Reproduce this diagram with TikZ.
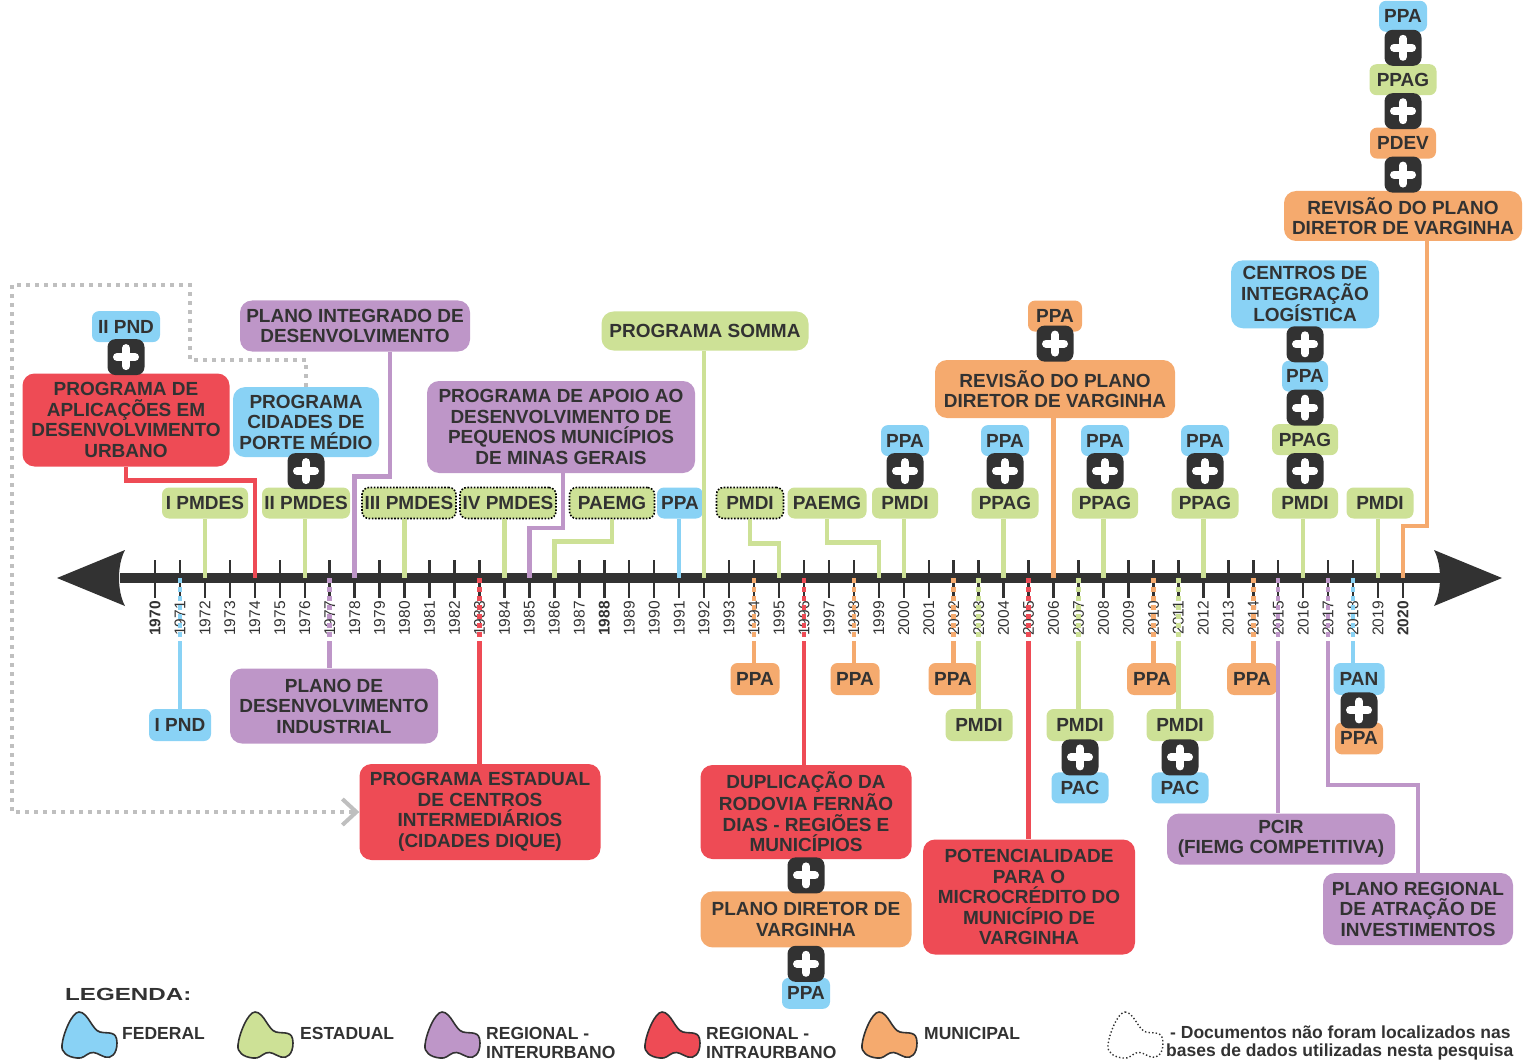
\documentclass[tikz,border=0pt]{standalone}
\usepackage{fontspec}
\setmainfont{Liberation Sans}
\usepackage{graphicx}
\usetikzlibrary{positioning,arrows.meta}

\definecolor{fedblue}{RGB}{137,210,245}
\definecolor{estgreen}{RGB}{205,225,150}
\definecolor{interpurple}{RGB}{190,150,200}
\definecolor{intrared}{RGB}{238,75,85}
\definecolor{munorange}{RGB}{245,170,110}
\definecolor{txt}{RGB}{50,50,50}

\newcommand\tagfont{\fontsize{19}{20.5}\selectfont\bfseries}
\newcommand\yearfont{\fontsize{15.5}{16}\selectfont}
\newcommand\legfont{\fontsize{17.5}{18.5}\selectfont\bfseries}

\tikzset{
  legblob/.pic={
    \path[pic actions] (17,0) .. controls (26,0) and (30,18) .. (38,20)
      .. controls (46,22) and (55,18) .. (55,31)
      .. controls (55,42) and (49,47) .. (43,45)
      .. controls (37,43) and (33,39) .. (28,41)
      .. controls (23,43) and (21,47) .. (15,46)
      .. controls (5,45) and (-1,40) .. (0,33)
      .. controls (1,22) and (10,0) .. (17,0) -- cycle;
  }
}

\begin{document}
\begin{tikzpicture}[
    x=1pt, y=-1pt,
    tag/.style={rounded corners=7pt, minimum height=31pt, inner sep=0pt, font=\tagfont, text=txt},
    box/.style={rounded corners=12pt, inner sep=0pt, align=center, font=\tagfont, text=txt},
    fed/.style={fill=fedblue},
    est/.style={fill=estgreen},
    inter/.style={fill=interpurple},
    intra/.style={fill=intrared},
    mun/.style={fill=munorange},
    missing/.style={draw=black, line width=1.6pt, dash pattern=on 1.6pt off 1.6pt},
    plusbox/.style={fill=txt, rounded corners=8pt, minimum width=37pt, minimum height=36pt, inner sep=0pt,
      path picture={\draw[white, line width=8pt, line cap=round]
        ([xshift=-9pt]path picture bounding box.center) -- ([xshift=9pt]path picture bounding box.center)
        ([yshift=-9pt]path picture bounding box.center) -- ([yshift=9pt]path picture bounding box.center);}},
    fedln/.style={draw=fedblue, line width=4.5pt},
    estln/.style={draw=estgreen, line width=4.5pt},
    interln/.style={draw=interpurple, line width=4.5pt},
    intraln/.style={draw=intrared, line width=4.5pt},
    munln/.style={draw=munorange, line width=4.5pt},
    gapln/.style={dash pattern=on 5pt off 4pt},
    yearlbl/.style={rotate=90, anchor=east, inner sep=0pt, font=\yearfont, text=txt},
    legtxt/.style={anchor=west, inner sep=0pt, align=left, font=\legfont, text=txt},
    refpath/.style={draw=black!25, line width=4pt, dash pattern=on 4pt off 5pt}
]
    \useasboundingbox (0,0) rectangle (1525,1064);

    % Axis
    \coordinate (axl) at (57,578);
    \coordinate (axr) at (1502,578);
    \draw[txt, line width=10pt] (120,578) -- (1440,578);
    \fill[txt] (axl) -- (125,550) .. controls (117,565) and (117,591) .. (125,606) -- cycle;
    \fill[txt] (axr) -- (1434,550) .. controls (1442,565) and (1442,591) .. (1434,606) -- cycle;
    \coordinate (lblend) at (0,642);
    \foreach \yr in {1970,...,2020} {
        \coordinate (y\yr) at ({155+(\yr-1970)*24.96},578);
        \draw[txt, line width=2.5pt] ({155+(\yr-1970)*24.96},560) -- ++(0,38);
        \node[yearlbl] (lbl\yr) at ({155+(\yr-1970)*24.96},601)
            {\ifnum\yr=1970\bfseries\fi\ifnum\yr=1988\bfseries\fi\ifnum\yr=2020\bfseries\fi\yr};
    }

    % Upper row
    \node[tag, est, minimum width=86pt] (pmdes1) at (205,503) {I PMDES};
    \node[tag, est, minimum width=88pt] (pmdes2) at (306,503) {II PMDES};
    \node[tag, est, missing, minimum width=94pt] (pmdes3) at (409,503) {III PMDES};
    \node[tag, est, missing, minimum width=96pt] (pmdes4) at (508,503) {IV PMDES};
    \node[tag, est, missing, minimum width=85pt] (paemgA) at (612,503) {PAEMG};
    \node[tag, fed, minimum width=46pt] (ppa91) at (680,503) {PPA};
    \node[tag, est, missing, minimum width=67pt] (pmdiA) at (750,503) {PMDI};
    \node[tag, est, minimum width=79pt] (paemgB) at (827,503) {PAEMG};
    \node[tag, est, minimum width=66pt] (pmdi00) at (905,503) {PMDI};
    \node[tag, est, minimum width=67pt] (ppag04) at (1005,503) {PPAG};
    \node[tag, est, minimum width=66pt] (ppag08) at (1105,503) {PPAG};
    \node[tag, est, minimum width=67pt] (ppag12) at (1205,503) {PPAG};
    \node[tag, est, minimum width=66pt] (pmdi16) at (1305,503) {PMDI};
    \node[tag, est, minimum width=67pt] (pmdi19) at (1380,503) {PMDI};

    \node[tag, fed, minimum width=48pt, above=31pt of pmdi00] (ppa00) {PPA};
    \node[tag, fed, minimum width=48pt, above=31pt of ppag04] (ppa04) {PPA};
    \node[tag, fed, minimum width=48pt, above=31pt of ppag08] (ppa08) {PPA};
    \node[tag, fed, minimum width=48pt, above=31pt of ppag12] (ppa12) {PPA};
    \node[tag, est, minimum width=66pt, above=32pt of pmdi16] (ppag16) {PPAG};
    \node[tag, fed, minimum width=46pt, above=32pt of ppag16] (ppa16) {PPA};
    \node[box, fed, minimum width=148pt, minimum height=68pt, above=32pt of ppa16] (centros)
        {CENTROS DE\\INTEGRAÇÃO\\LOGÍSTICA};

    \node[box, intra, minimum width=207pt, minimum height=93pt] (aplic) at (126,420)
        {PROGRAMA DE\\APLICAÇÕES EM\\DESENVOLVIMENTO\\URBANO};
    \node[tag, fed, minimum width=68pt, above=31pt of aplic] (iipnd) {II PND};
    \node[box, fed, minimum width=146pt, minimum height=70pt, above=30pt of pmdes2] (cidades)
        {PROGRAMA\\CIDADES DE\\PORTE MÉDIO};
    \node[box, inter, minimum width=230pt, minimum height=51pt] (pid) at (355,326)
        {PLANO INTEGRADO DE\\DESENVOLVIMENTO};
    \node[box, inter, minimum width=268pt, minimum height=92pt] (apoio) at (561,427)
        {PROGRAMA DE APOIO AO\\DESENVOLVIMENTO DE\\PEQUENOS MUNICÍPIOS\\DE MINAS GERAIS};
    \node[box, est, minimum width=207pt, minimum height=39pt] (somma) at (705,331) {PROGRAMA SOMMA};
    \node[box, mun, minimum width=240pt, minimum height=58pt] (rev1) at (1055,389)
        {REVISÃO DO PLANO\\DIRETOR DE VARGINHA};
    \node[tag, mun, minimum width=54pt, above=28pt of rev1] (ppa06) {PPA};
    \node[box, mun, minimum width=238pt, minimum height=50pt] (rev2) at (1403,216)
        {REVISÃO DO PLANO\\DIRETOR DE VARGINHA};
    \node[tag, mun, minimum width=66pt, above=32pt of rev2] (pdev) {PDEV};
    \node[tag, est, minimum width=67pt, above=32pt of pdev] (ppag20) {PPAG};
    \node[tag, fed, minimum width=48pt, above=32pt of ppag20] (ppa20) {PPA};

    % Lower row
    \node[tag, fed, minimum width=62pt, minimum height=32pt] (ipnd) at (180,725) {I PND};
    \node[box, inter, minimum width=208pt, minimum height=75pt] (pdi) at (334,706)
        {PLANO DE\\DESENVOLVIMENTO\\INDUSTRIAL};
    \node[box, intra, minimum width=241pt, minimum height=96pt] (estadual) at (480,812)
        {PROGRAMA ESTADUAL\\DE CENTROS\\INTERMEDIÁRIOS\\(CIDADES DIQUE)};
    \node[tag, mun, minimum width=49pt, minimum height=32pt] (ppa94) at (755,679) {PPA};
    \node[tag, mun, minimum width=49pt, minimum height=32pt] (ppa98) at (855,679) {PPA};
    \node[tag, mun, minimum width=49pt, minimum height=32pt] (ppa02) at (953,679) {PPA};
    \node[tag, est, minimum width=67pt, minimum height=32pt] (pmdi03) at (979,725) {PMDI};
    \node[tag, est, minimum width=67pt, minimum height=32pt] (pmdi07) at (1080,725) {PMDI};
    \node[tag, mun, minimum width=50pt, minimum height=32pt] (ppa10) at (1152,679) {PPA};
    \node[tag, est, minimum width=67pt, minimum height=32pt] (pmdi11) at (1180,725) {PMDI};
    \node[tag, mun, minimum width=50pt, minimum height=32pt] (ppa14) at (1252,679) {PPA};
    \node[tag, fed, minimum width=51pt, minimum height=32pt] (pan) at (1359,679) {PAN};
    \node[tag, fed, minimum width=57pt, minimum height=31pt, below=31pt of pmdi07] (pac07) {PAC};
    \node[tag, fed, minimum width=57pt, minimum height=31pt, below=31pt of pmdi11] (pac11) {PAC};
    \node[tag, mun, minimum width=48pt, minimum height=32pt, below=27pt of pan] (ppa18) {PPA};
    \node[box, inter, minimum width=228pt, minimum height=51pt] (pcir) at (1281,839)
        {PCIR\\(FIEMG COMPETITIVA)};
    \node[box, inter, minimum width=190pt, minimum height=72pt] (plreg) at (1418,909)
        {PLANO REGIONAL\\DE ATRAÇÃO DE\\INVESTIMENTOS};
    \node[box, intra, minimum width=211pt, minimum height=94pt] (dup) at (806,812)
        {DUPLICAÇÃO DA\\RODOVIA FERNÃO\\DIAS - REGIÕES E\\MUNICÍPIOS};
    \node[box, mun, minimum width=211pt, minimum height=56pt, below=32pt of dup] (pdv)
        {PLANO DIRETOR DE\\VARGINHA};
    \node[tag, fed, minimum width=48pt, below=30pt of pdv] (ppa96) {PPA};
    \node[box, intra, minimum width=212pt, minimum height=115pt] (potenc) at (1029,897)
        {POTENCIALIDADE\\PARA O\\MICROCRÉDITO DO\\MUNICÍPIO DE\\VARGINHA};

    % Plus badges
    \node[plusbox, above=-2pt of aplic] (plaplic) {};
    \node[plusbox, above=-2pt of pmdes2] (plcid) {};
    \node[plusbox, above=-2pt of pmdi00] (pl00) {};
    \node[plusbox, above=-2pt of ppag04] (pl04) {};
    \node[plusbox, above=-2pt of ppag08] (pl08) {};
    \node[plusbox, above=-2pt of ppag12] (pl12) {};
    \node[plusbox, above=-2pt of pmdi16] (pl16a) {};
    \node[plusbox, above=-2pt of ppag16] (pl16b) {};
    \node[plusbox, above=-2pt of ppa16] (pl16c) {};
    \node[plusbox, above=-2pt of rev1] (pl06) {};
    \node[plusbox, above=-2pt of rev2] (pl20a) {};
    \node[plusbox, above=-2pt of pdev] (pl20b) {};
    \node[plusbox, above=-2pt of ppag20] (pl20c) {};
    \node[plusbox, below=-2pt of pmdi07] (pl07) {};
    \node[plusbox, below=-2pt of pmdi11] (pl11) {};
    \node[plusbox, below=-3pt of pan] (pl18) {};
    \node[plusbox, below=-2pt of dup] (pl96a) {};
    \node[plusbox, below=-2pt of pdv] (pl96b) {};

    % Connectors above the axis
    \draw[intraln] (aplic.south) -- ++(0,14) -| (y1974);
    \draw[estln] (y1972 |- pmdes1.south) -- (y1972);
    \draw[estln] (y1976 |- pmdes2.south) -- (y1976);
    \draw[interln] ([xshift=35pt]pid.south) -- ++(0,125) -| (y1978);
    \draw[estln] (y1980 |- pmdes3.south) -- (y1980);
    \draw[estln] (y1984 |- pmdes4.south) -- (y1984);
    \draw[interln] ([xshift=2pt]apoio.south) -- ++(0,55) -| (y1985);
    \draw[estln] (paemgA.south) -- ++(0,22) -| (y1986);
    \draw[fedln] (y1991 |- ppa91.south) -- (y1991);
    \draw[estln] (y1992 |- somma.south) -- (y1992);
    \draw[estln] (pmdiA.south) -- ++(0,24) -| (y1995);
    \draw[estln] (paemgB.south) -- ++(0,24) -| (y1999);
    \draw[estln] (y2000 |- pmdi00.south) -- (y2000);
    \draw[estln] (y2004 |- ppag04.south) -- (y2004);
    \draw[munln] (y2006 |- rev1.south) -- (y2006);
    \draw[estln] (y2008 |- ppag08.south) -- (y2008);
    \draw[estln] (y2012 |- ppag12.south) -- (y2012);
    \draw[estln] (y2016 |- pmdi16.south) -- (y2016);
    \draw[estln] (y2019 |- pmdi19.south) -- (y2019);
    \draw[munln] ([xshift=24pt]rev2.south) -- ++(0,285) -| (y2020);

    % Connectors below the axis
    \foreach \yr/\ln in {1971/fedln, 1977/interln, 1983/intraln, 1994/munln, 1996/intraln,
        1998/munln, 2002/munln, 2003/estln, 2005/intraln, 2007/estln, 2010/munln,
        2011/estln, 2014/munln, 2015/interln, 2017/interln, 2018/fedln}
        \draw[\ln, gapln] (y\yr) -- (y\yr |- lblend);
    \draw[fedln] (y1971 |- lblend) -- (y1971 |- ipnd.north);
    \draw[interln] (y1977 |- lblend) -- (y1977 |- pdi.north);
    \draw[intraln] (y1983 |- lblend) -- (y1983 |- estadual.north);
    \draw[munln] (y1994 |- lblend) -- (y1994 |- ppa94.north);
    \draw[intraln] (y1996 |- lblend) -- (y1996 |- dup.north);
    \draw[munln] (y1998 |- lblend) -- (y1998 |- ppa98.north);
    \draw[munln] (y2002 |- lblend) -- (y2002 |- ppa02.north);
    \draw[estln] (y2003 |- lblend) -- (y2003 |- pmdi03.north);
    \draw[intraln] (y2005 |- lblend) -- (y2005 |- potenc.north);
    \draw[estln] (y2007 |- lblend) -- (y2007 |- pmdi07.north);
    \draw[munln] (y2010 |- lblend) -- (y2010 |- ppa10.north);
    \draw[estln] (y2011 |- lblend) -- (y2011 |- pmdi11.north);
    \draw[munln] (y2014 |- lblend) -- (y2014 |- ppa14.north);
    \draw[interln] (y2015 |- lblend) -- (y2015 |- pcir.north);
    \draw[interln] (y2017 |- lblend) -- ++(0,143) -| (plreg.north);
    \draw[fedln] (y2018 |- lblend) -- (y2018 |- pan.north);

    % Grey route
    \draw[refpath, -{Straight Barb[length=14pt, width=26pt, line width=4pt]}]
        (cidades.north) |- (190,360) |- (12,285) |- (estadual.west);

    % Legend
    \node[anchor=west, inner sep=0pt, font=\legfont, text=txt] (legtitle) at (65,994)
        {\scalebox{1.38}[1]{LEGENDA:}};
    \pic[fill=fedblue, draw=txt, line width=1.6pt] at (62,1012) {legblob};
    \pic[fill=estgreen, draw=txt, line width=1.6pt] at (238,1012) {legblob};
    \pic[fill=interpurple, draw=txt, line width=1.6pt] at (425,1012) {legblob};
    \pic[fill=intrared, draw=txt, line width=1.6pt] at (645,1012) {legblob};
    \pic[fill=munorange, draw=txt, line width=1.6pt] at (862,1012) {legblob};
    \pic[draw=txt, line width=1.4pt, dash pattern=on 1.4pt off 2.2pt] at (1108,1012) {legblob};
    \node[legtxt] (legfed) at (122,1033) {FEDERAL};
    \node[legtxt] (legest) at (300,1033) {ESTADUAL};
    \node[legtxt] (leginter) at (486,1043) {REGIONAL -\\INTERURBANO};
    \node[legtxt] (legintra) at (706,1043) {REGIONAL -\\INTRAURBANO};
    \node[legtxt] (legmun) at (924,1033) {MUNICIPAL};
    \node[legtxt] (legmiss) at (1166,1043)
        {\hspace*{4pt}- Documentos não foram localizados nas\\bases de dados utilizadas nesta pesquisa};
\end{tikzpicture}
\end{document}
